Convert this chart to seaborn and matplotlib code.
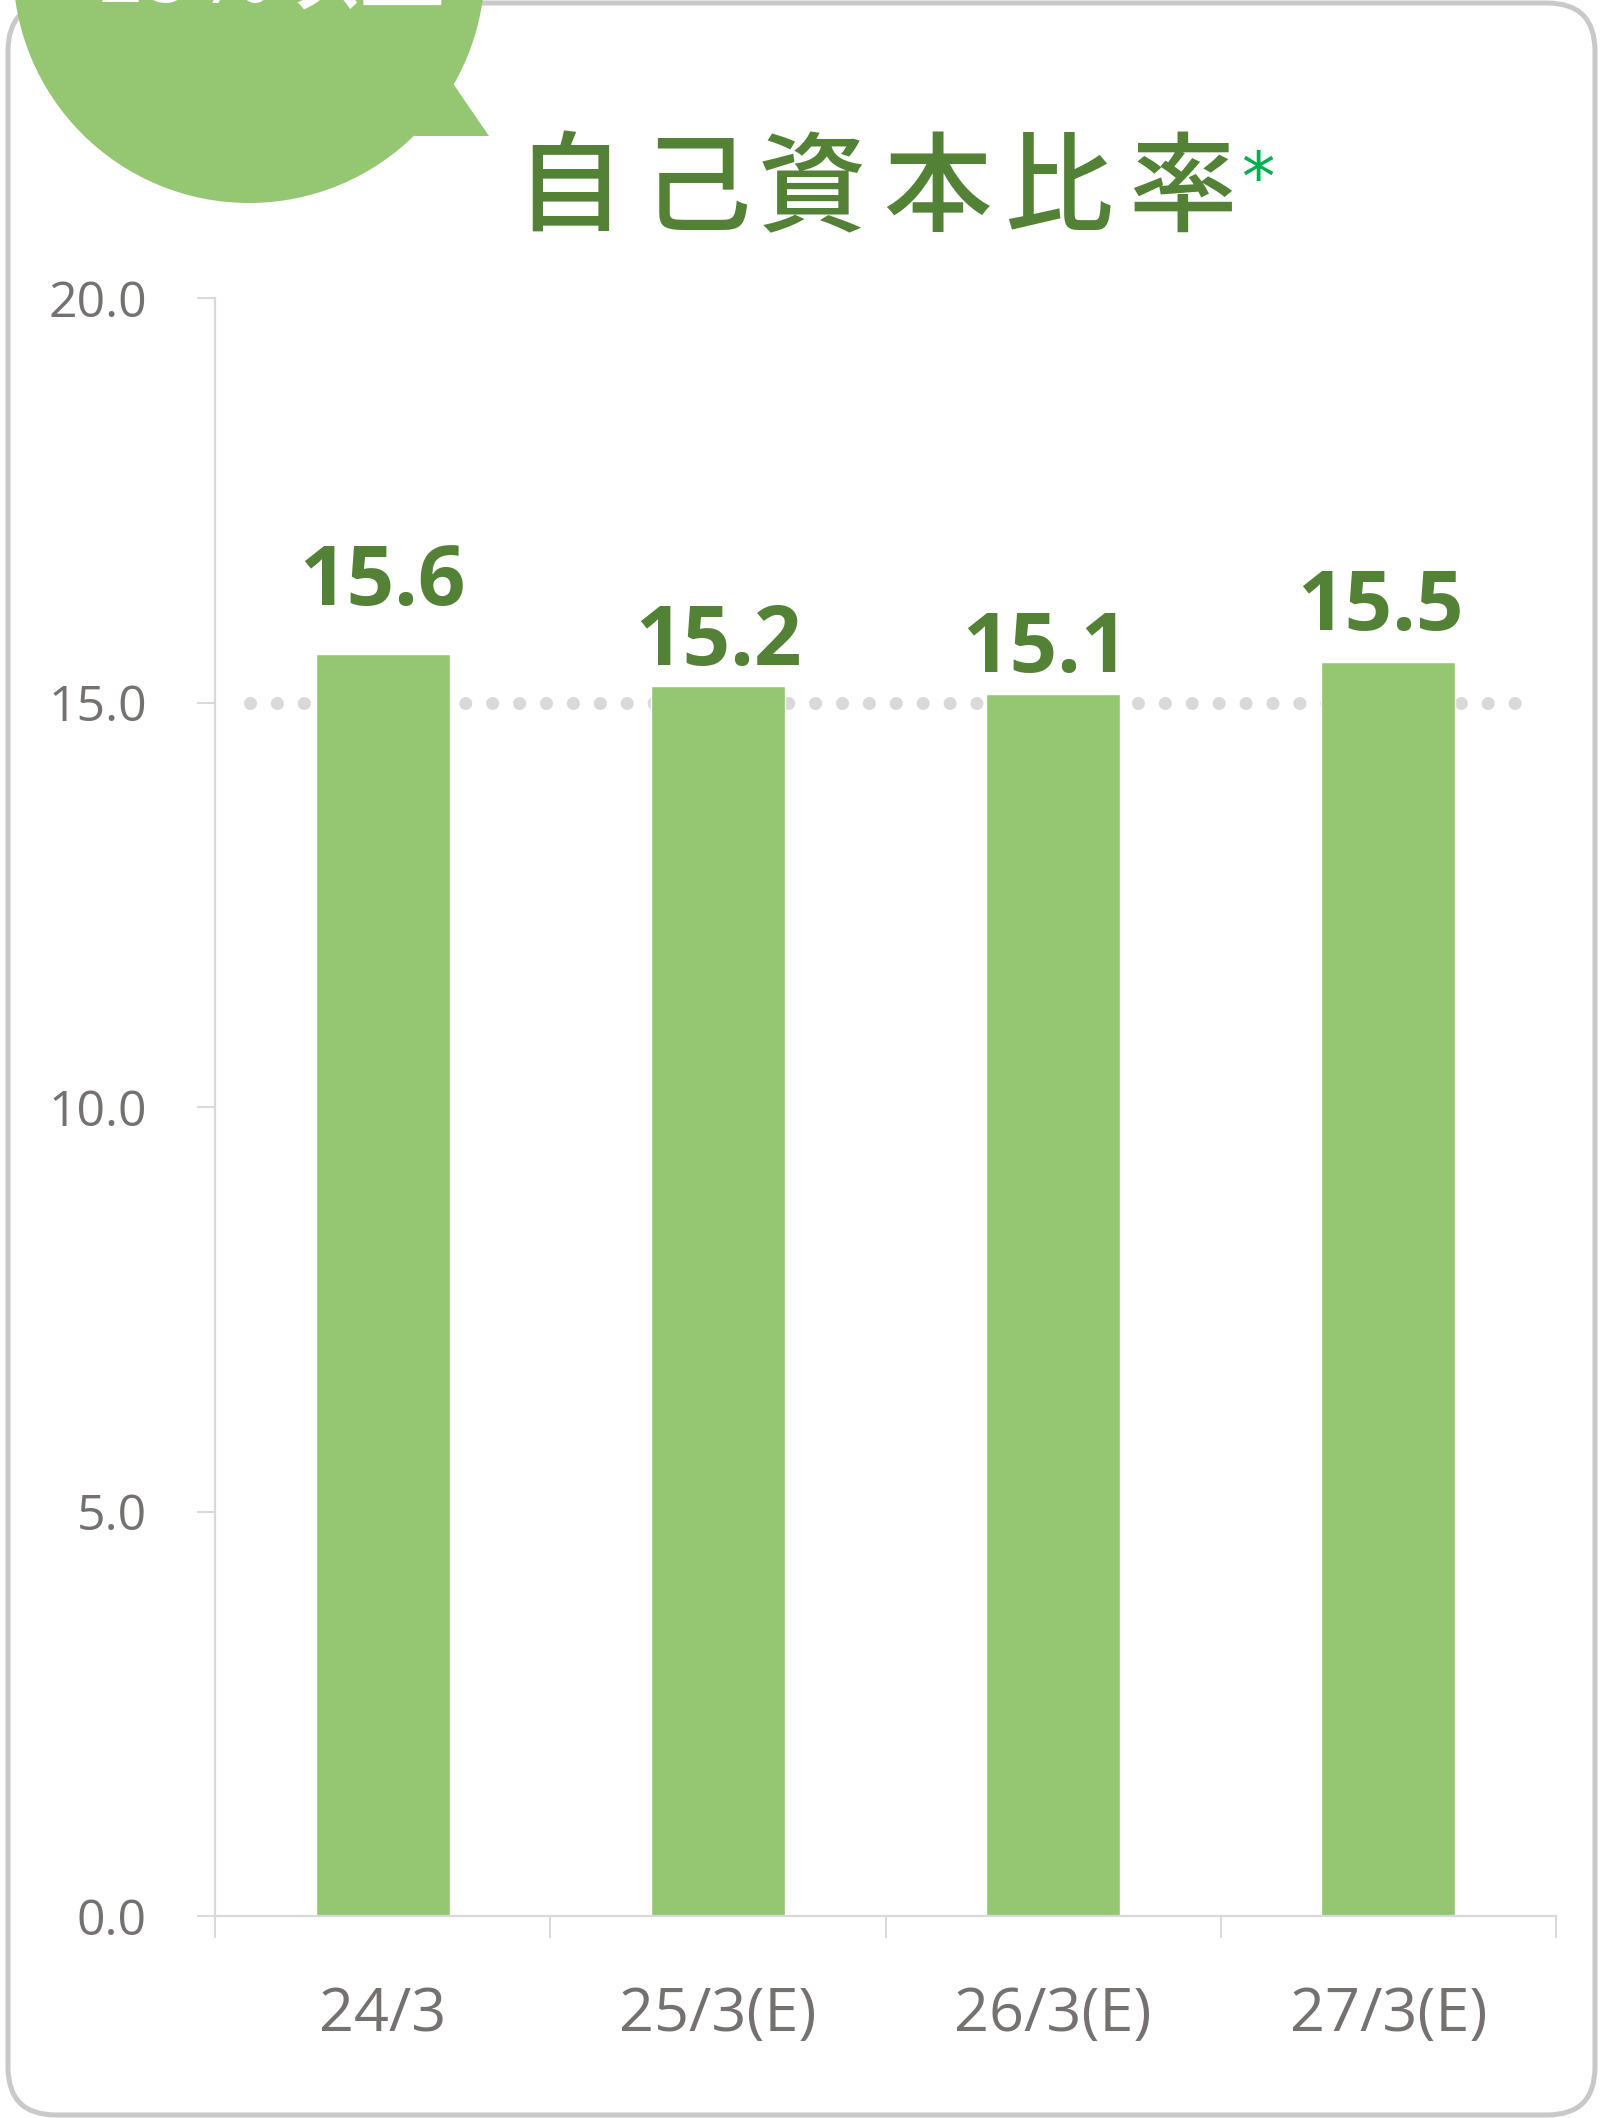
import matplotlib
matplotlib.use("Agg")
import matplotlib.pyplot as plt
from matplotlib.patches import Circle, Polygon, FancyBboxPatch
import seaborn as sns
import pandas as pd

# Equity ratio (%) by fiscal year end
categories = ["24/3", "25/3(E)", "26/3(E)", "27/3(E)"]
values = [15.6, 15.2, 15.1, 15.5]
value_labels = ["15.6", "15.2", "15.1", "15.5"]
target_level = 15.0
y_ticks = [0.0, 5.0, 10.0, 15.0, 20.0]
title_chars = list("自己資本比率")
badge_text = "15%以上"

# label nudges (pixels): vertical gap above bar, horizontal shift
label_gap_px = [49, 21, 22, 32]
label_dx_px = [0, 0, -8, -8]

BAR_GREEN = "#95C672"
DARK_GREEN = "#538135"
BRIGHT_GREEN = "#00B050"
TICK_GRAY = "#767171"
AXIS_GRAY = "#D9D9D9"
FRAME_GRAY = "#C9C9C9"

sns.set_theme(style="white")
plt.rcParams["font.family"] = ["Open Sans", "Noto Sans CJK JP", "DejaVu Sans"]

W, H, DPI = 1604, 2118, 100
fig = plt.figure(figsize=(W / DPI, H / DPI), dpi=DPI)
fig.patch.set_facecolor("white")


def fx(px):
    return px / W


def fy(py):
    return (H - py) / H


def inch(px, py):
    return (px / DPI, (H - py) / DPI)


# rounded outer frame
frame = FancyBboxPatch(inch(8, 2115), 15.87, 21.12,
                       boxstyle="round,pad=0,rounding_size=0.48",
                       transform=fig.dpi_scale_trans, fill=False,
                       edgecolor=FRAME_GRAY, linewidth=3.6, zorder=1)
fig.patches.append(frame)

# speech-bubble badge in the top-left corner
badge = Circle(inch(249, -33), 2.36, transform=fig.dpi_scale_trans,
               facecolor=BAR_GREEN, edgecolor="none", zorder=2)
tail = Polygon([inch(430, 50), inch(489, 136), inch(415, 136), inch(380, 110)],
               closed=True, transform=fig.dpi_scale_trans,
               facecolor=BAR_GREEN, edgecolor="none", zorder=2)
fig.patches.extend([badge, tail])
fig.text(fx(270), fy(3), badge_text, color="white", fontsize=62,
         fontweight="medium", ha="center", va="baseline",
         family=["Noto Sans CJK JP", "DejaVu Sans"], zorder=3)

# title with wide character spacing
title_x = [569, 696, 812, 937, 1058, 1182]
for ch, x in zip(title_chars, title_x):
    fig.text(fx(x), fy(192), ch, color=DARK_GREEN, fontsize=78,
             fontweight="medium", ha="center", va="center",
             family=["Noto Sans CJK JP", "DejaVu Sans"])
fig.text(fx(1258), fy(181), "*", color=BRIGHT_GREEN, fontsize=48,
         ha="center", va="center", family=["DejaVu Sans"])

# chart area
AX_L, AX_R, AX_T, AX_B = 215, 1556, 298, 1916
ax = fig.add_axes([fx(AX_L), fy(AX_B), (AX_R - AX_L) / W, (AX_B - AX_T) / H])
ax.set_facecolor("none")

df = pd.DataFrame({"period": categories, "ratio": values})
sns.barplot(data=df, x="period", y="ratio", color=BAR_GREEN, saturation=1,
            width=0.4, ax=ax, zorder=2)

# dotted reference line at 15%
ax.axhline(target_level, xmin=(250 - AX_L) / (AX_R - AX_L),
           xmax=(1515 - AX_L) / (AX_R - AX_L),
           color=AXIS_GRAY, linewidth=9.4, linestyle=(0, (0.001, 2.06)),
           dash_capstyle="round", zorder=0.5)

ax.set_xlim(-0.5, len(categories) - 0.5)
ax.set_ylim(0, 20)
ax.set_yticks(y_ticks)
ax.set_yticklabels([f"{t:.1f}" for t in y_ticks])

# boundary ticks between categories, labels at centres
ax.set_xticks([i - 0.5 for i in range(len(categories) + 1)])
ax.set_xticklabels([""] * (len(categories) + 1))
ax.set_xticks(range(len(categories)), minor=True)
ax.set_xticklabels(categories, minor=True)

ax.tick_params(axis="x", which="major", direction="out", length=16,
               width=1.4, color=AXIS_GRAY, bottom=True)
ax.tick_params(axis="x", which="minor", length=0, pad=50, labelsize=44,
               labelcolor=TICK_GRAY)
ax.tick_params(axis="y", direction="out", length=13, width=1.4,
               color=AXIS_GRAY, left=True, pad=36, labelsize=36,
               labelcolor=TICK_GRAY)

for side in ["top", "right"]:
    ax.spines[side].set_visible(False)
for side in ["left", "bottom"]:
    ax.spines[side].set_color(AXIS_GRAY)
    ax.spines[side].set_linewidth(1.6)
ax.spines["left"].set_bounds(0, 20)
ax.set_xlabel("")
ax.set_ylabel("")
ax.grid(False)

# value labels above bars
for i, (v, lab) in enumerate(zip(values, value_labels)):
    ax.annotate(lab, xy=(i, v), xytext=(label_dx_px[i] * 0.72, label_gap_px[i] * 0.72),
                textcoords="offset points", ha="center", va="baseline",
                fontsize=60, fontweight="bold", color=DARK_GREEN,
                family=["Open Sans", "DejaVu Sans"])

fig.savefig("out.png", dpi=DPI, facecolor="white")
